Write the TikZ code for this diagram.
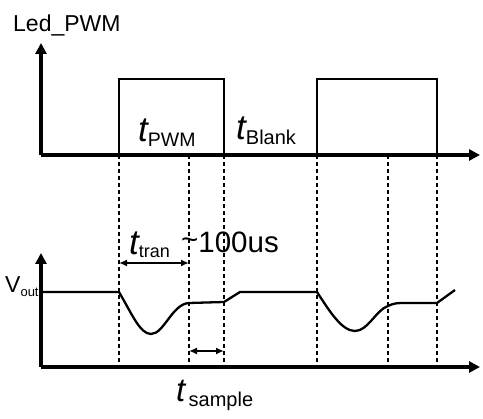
\documentclass[tikz,border=0pt]{standalone}
\usepackage{fontspec}
\setmainfont{Liberation Sans}
\usetikzlibrary{arrows.meta}
\begin{document}
\begin{tikzpicture}[x=1pt,y=-1pt,
  axis/.style={line width=3.5pt,-{Triangle[length=11pt,width=11pt]}},
  pulse/.style={line width=2.5pt},
  wave/.style={line width=2.3pt,line join=round},
  guide/.style={line width=1.2pt,dash pattern=on 4pt off 3pt},
  span/.style={line width=1.6pt,{Latex[length=8pt,width=7pt]}-{Latex[length=8pt,width=7pt]}},
  lbl/.style={inner sep=0pt,anchor=base west}]
\useasboundingbox (0,0) rectangle (483,419);
% coordinates
\coordinate (o1) at (41,155);
\coordinate (y1) at (41,43);
\coordinate (x1) at (480,155);
\coordinate (o2) at (41,367);
\coordinate (y2) at (41,253);
\coordinate (x2) at (480,367);
% guides
\foreach \n/\x in {a/119,b/189,c/224,d/317,e/388,f/437}{
  \coordinate (\n top) at (\x,155);
  \coordinate (\n bot) at (\x,367);
  \draw[guide] (\n top) -- (\n bot);
}
% pulses
\draw[pulse,line join=miter] (o1) -- (atop) -- (119,79) -- (224,79) -- (ctop);
\draw[pulse,line join=miter] (dtop) -- (317,79) -- (437,79) -- (ftop);
% axes
\draw[axis] (o1) -- (y1);
\draw[axis] (o1) -- (x1);
\draw[axis] (o2) -- (y2);
\draw[axis] (o2) -- (x2);
% waveform
\draw[wave] (41,292) -- (119,292)
  .. controls (132,314) and (140,334) .. (151,334)
  .. controls (164,334) and (172,304) .. (189,303)
  -- (224,302) -- (240,292) -- (317,292)
  .. controls (330,312) and (342,331) .. (355,331)
  .. controls (368,331) and (376,310) .. (388,306)
  .. controls (394,303) and (398,303) .. (405,303)
  -- (437,303) -- (455,290);
% spans
\coordinate (s1a) at (119,263);
\coordinate (s1b) at (189,263);
\coordinate (s2a) at (189,351);
\coordinate (s2b) at (224,351);
\draw[span] (s1a) -- (s1b);
\draw[span] (s2a) -- (s2b);
% labels
\node[lbl] (led) at (13,32) {\fontsize{23}{23}\selectfont Led\_PWM};
\node[lbl] (tpwm) at (138,142) {\fontsize{35}{35}\selectfont\itshape t\raisebox{-5pt}{\fontsize{19.5}{19.5}\selectfont\upshape PWM}};
\node[lbl] (tblank) at (236,140) {\fontsize{35}{35}\selectfont\itshape t\raisebox{-5pt}{\fontsize{20}{20}\selectfont\upshape Blank}};
\node[lbl] (ttran) at (129,255) {\fontsize{35}{35}\selectfont\itshape t\raisebox{-3pt}{\fontsize{18}{18}\selectfont\upshape tran}};
\node[lbl] (tval) at (181,253) {\fontsize{29.5}{29.5}\selectfont\raisebox{3pt}{\textasciitilde}100us};
\node[lbl] (vout) at (5,293) {\fontsize{23}{23}\selectfont V\raisebox{-4pt}{\fontsize{13}{13}\selectfont out}};
\node[lbl] (tsample) at (176,402) {\fontsize{33}{33}\selectfont\itshape t\raisebox{-5pt}{\fontsize{20}{20}\selectfont\upshape\,sample}};
\end{tikzpicture}
\end{document}
